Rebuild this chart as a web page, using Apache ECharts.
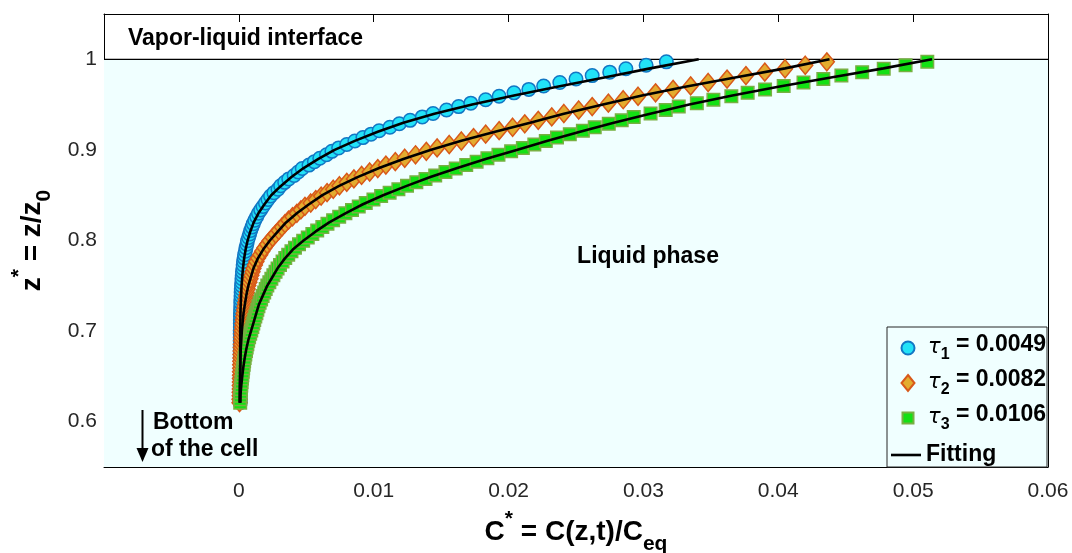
<!DOCTYPE html>
<html>
<head>
<meta charset="utf-8">
<script src="https://cdn.jsdelivr.net/npm/echarts@6/dist/echarts.min.js"></script>
<style>
html, body { margin: 0; padding: 0; background: #ffffff; }
#chart { width: 1072px; height: 553px; }
</style>
</head>
<body>
<div id="chart"></div>
<script>
// Dimensionless depth z* = z/z0 of the sampled points (shared by the three profiles)
const zGrid = [
  0.6210, 0.6248, 0.6286, 0.6324, 0.6362, 0.6400, 0.6438, 0.6476, 0.6514, 0.6552,
  0.6590, 0.6628, 0.6666, 0.6704, 0.6742, 0.6780, 0.6818, 0.6856, 0.6894, 0.6932,
  0.6970, 0.7008, 0.7046, 0.7084, 0.7122, 0.7160, 0.7198, 0.7236, 0.7274, 0.7312,
  0.7350, 0.7388, 0.7426, 0.7464, 0.7502, 0.7540, 0.7578, 0.7616, 0.7654, 0.7692,
  0.7730, 0.7768, 0.7806, 0.7844, 0.7882, 0.7920, 0.7958, 0.7996, 0.8034, 0.8072,
  0.8110, 0.8148, 0.8186, 0.8224, 0.8262, 0.8300, 0.8338, 0.8376, 0.8414, 0.8452,
  0.8490, 0.8528, 0.8566, 0.8604, 0.8642, 0.8680, 0.8718, 0.8756, 0.8794, 0.8832,
  0.8870, 0.8908, 0.8946, 0.8984, 0.9022, 0.9060, 0.9098, 0.9136, 0.9174, 0.9212,
  0.9250, 0.9288, 0.9326, 0.9364, 0.9402, 0.9440, 0.9478, 0.9516, 0.9554, 0.9592,
  0.9630, 0.9668, 0.9706, 0.9744, 0.9782, 0.9820, 0.9858, 0.9896, 0.9934, 0.9972
];

// Concentration C* = C(z,t)/Ceq at each depth, tau1 = 0.0049
const cTau1 = [
  0.0001, 0.0001, 0.0001, 0.0001, 0.0001, 0.0001, 0.0001, 0.0001, 0.0001, 0.0001,
  0.0001, 0.0001, 0.0001, 0.0001, 0.0001, 0.0001, 0.0001, 0.0001, 0.0001, 0.0001,
  0.0001, 0.0001, 0.00011, 0.00011, 0.00011, 0.00012, 0.00012, 0.00013, 0.00014, 0.00014,
  0.00015, 0.00016, 0.00017, 0.00018, 0.0002, 0.00022, 0.00023, 0.00025, 0.00027, 0.0003,
  0.00032, 0.00035, 0.00039, 0.00043, 0.00048, 0.00053, 0.00059, 0.00064, 0.00072, 0.0008,
  0.00088, 0.00097, 0.00107, 0.00118, 0.00132, 0.00145, 0.00162, 0.00179, 0.00197, 0.00216,
  0.00235, 0.0026, 0.0029, 0.0031, 0.0034, 0.0037, 0.0041, 0.0044, 0.0047, 0.0052,
  0.0056, 0.0060, 0.0065, 0.0069, 0.0074, 0.0080, 0.0086, 0.0092, 0.0098, 0.0104,
  0.0112, 0.0119, 0.0127, 0.0136, 0.0144, 0.0154, 0.0163, 0.0172, 0.0183, 0.0193,
  0.0204, 0.0215, 0.0226, 0.0238, 0.0250, 0.0262, 0.0275, 0.0287, 0.0302, 0.0317
];

// tau2 = 0.0082
const cTau2 = [
  0.00005, 0.00005, 0.00006, 0.00006, 0.00007, 0.00007, 0.00008, 0.00008, 0.00009, 0.00009,
  0.0001, 0.0001, 0.00011, 0.00012, 0.00013, 0.00014, 0.00015, 0.00016, 0.00018, 0.00019,
  0.00021, 0.00022, 0.00025, 0.00027, 0.0003, 0.00032, 0.00035, 0.00039, 0.00042, 0.00046,
  0.0005, 0.00054, 0.00059, 0.00065, 0.0007, 0.00078, 0.00086, 0.00093, 0.00101, 0.00108,
  0.00119, 0.0013, 0.00142, 0.00158, 0.00173, 0.0019, 0.00209, 0.00228, 0.0025, 0.00273,
  0.00296, 0.00319, 0.00342, 0.00368, 0.00398, 0.0043, 0.0046, 0.0049, 0.00533, 0.0057,
  0.0061, 0.00654, 0.0070, 0.00746, 0.0080, 0.00853, 0.0091, 0.0097, 0.0103, 0.0109,
  0.0116, 0.0123, 0.0131, 0.0139, 0.0147, 0.0156, 0.0165, 0.0174, 0.0183, 0.0193,
  0.0203, 0.0212, 0.0222, 0.0232, 0.0241, 0.0252, 0.0262, 0.0274, 0.0285, 0.0296,
  0.0309, 0.0322, 0.0335, 0.0348, 0.0362, 0.0376, 0.0390, 0.0405, 0.0420, 0.0436
];

// tau3 = 0.0106
const cTau3 = [
  0.0001, 0.0001, 0.00011, 0.00013, 0.00015, 0.00018, 0.0002, 0.00023, 0.00026, 0.00029,
  0.00032, 0.00036, 0.00039, 0.00043, 0.00048, 0.00053, 0.00058, 0.00063, 0.00069, 0.00076,
  0.00084, 0.00092, 0.001, 0.00107, 0.00114, 0.00122, 0.0013, 0.00137, 0.00145, 0.00154,
  0.00165, 0.00176, 0.00188, 0.00199, 0.00211, 0.00226, 0.00241, 0.00256, 0.00272, 0.00287,
  0.00305, 0.00324, 0.00344, 0.00366, 0.0039, 0.00416, 0.00446, 0.00477, 0.00511, 0.00545,
  0.00581, 0.00619, 0.00657, 0.00699, 0.00744, 0.0079, 0.00839, 0.00889, 0.00941, 0.00998,
  0.01055, 0.01118, 0.01183, 0.01247, 0.01316, 0.01384, 0.01456, 0.01532, 0.01608, 0.01686,
  0.01763, 0.01843, 0.01925, 0.02019, 0.02106, 0.02191, 0.02276, 0.02359, 0.02454, 0.02551,
  0.02639, 0.02743, 0.02839, 0.02928, 0.03053, 0.03165, 0.03262, 0.03396, 0.03519, 0.03652,
  0.03773, 0.03902, 0.0404, 0.04187, 0.04334, 0.04468, 0.04622, 0.04782, 0.04944, 0.05105
];

// Fitted profiles
const fitZ = [
  0.621, 0.63, 0.64, 0.65, 0.66, 0.67, 0.68, 0.69, 0.70,
  0.71, 0.72, 0.73, 0.74, 0.75, 0.76, 0.77, 0.78, 0.79,
  0.80, 0.81, 0.82, 0.83, 0.84, 0.85, 0.86, 0.87, 0.88, 0.89,
  0.90, 0.91, 0.92, 0.93, 0.94, 0.95, 0.96, 0.97, 0.98, 0.99,
  1.00
];
const fitTau1 = [
  0.0001, 0.0001, 0.0001, 0.0001, 0.0001, 0.0001, 0.0001, 0.0001, 0.0001,
  0.00011, 0.00012, 0.00014, 0.00017, 0.0002, 0.00025, 0.00031, 0.00039, 0.0005,
  0.00065, 0.00085, 0.0011, 0.00145, 0.0019, 0.0024, 0.0031, 0.0039, 0.0048, 0.0059,
  0.0071, 0.0086, 0.0103, 0.0122, 0.0145, 0.0173, 0.0204, 0.0237, 0.0271, 0.0305,
  0.0341
];
const fitTau2 = [
  0.00005, 0.00006, 0.00007, 0.00009, 0.0001, 0.00012, 0.00014, 0.00018, 0.00022,
  0.00028, 0.00035, 0.00045, 0.00056, 0.0007, 0.0009, 0.0011, 0.0014, 0.0018,
  0.0023, 0.0029, 0.0035, 0.0043, 0.0052, 0.0062, 0.0074, 0.0088, 0.0104, 0.0122,
  0.0142, 0.0165, 0.0190, 0.0216, 0.0241, 0.0270, 0.0299, 0.0332, 0.0368, 0.0405,
  0.0438
];
const fitTau3 = [
  0.0001, 0.00012, 0.00018, 0.00025, 0.00033, 0.00043, 0.00055, 0.0007, 0.0009,
  0.0011, 0.0013, 0.0015, 0.0018, 0.0021, 0.0025, 0.0029, 0.0034, 0.0040,
  0.0048, 0.0057, 0.0067, 0.0079, 0.0092, 0.0107, 0.0124, 0.0142, 0.0162, 0.0183,
  0.0206, 0.0229, 0.0253, 0.0278, 0.0305, 0.0334, 0.0366, 0.0401, 0.0439, 0.0478,
  0.0514
];

const xTicks = [0, 0.01, 0.02, 0.03, 0.04, 0.05, 0.06];
const yTicks = [0.6, 0.7, 0.8, 0.9, 1];
const tauIndex = ['1', '2', '3'];
const tauValues = ['0.0049', '0.0082', '0.0106'];
const seriesNames = ['tau1', 'tau2', 'tau3'];
const fitName = 'Fitting';

const FONT = '"Liberation Sans", Arial, Helvetica, sans-serif';
const AXIS_COLOR = '#000000';
const TICK_TEXT = '#262626';

const markerStyles = [
  { symbol: 'circle', size: 13.5, fill: '#22e2f7', stroke: '#1277c4' },
  { symbol: 'diamond', size: [15, 18], fill: '#e3ac2f', stroke: '#d8591a' },
  { symbol: 'rect', size: 12.5, fill: '#14e014', stroke: '#78b043' }
];

// Legend icons: a leading "M0,0 M17,17" fixes the icon box so each glyph keeps its own size
const legendIcons = [
  'path://M0,0M17,17M2,8.5A6.5,6.5,0,1,1,15,8.5A6.5,6.5,0,1,1,2,8.5Z',
  'path://M0,0M17,17M8.5,0.5L15,8.5L8.5,16.5L2,8.5Z',
  'path://M0,0M17,17M3,3L14,3L14,14L3,14Z',
  'path://M0,0M30,17M0,7.2L30,7.2L30,9.8L0,9.8Z'
];

const dataSets = [cTau1, cTau2, cTau3];
const fitSets = [fitTau1, fitTau2, fitTau3];

const chart = echarts.init(document.getElementById('chart'), null, { renderer: 'canvas' });

const baseAxis = {
  type: 'value',
  splitLine: { show: false },
  axisLine: { show: true, onZero: false, lineStyle: { color: AXIS_COLOR, width: 1 } }
};

const titleRich = {
  b: { fontSize: 28, fontWeight: 'bold', fontFamily: FONT, color: '#000', lineHeight: 46 },
  sup: { fontSize: 21, fontWeight: 'bold', fontFamily: FONT, color: '#000', verticalAlign: 'top' },
  sub: { fontSize: 21, fontWeight: 'bold', fontFamily: FONT, color: '#000', verticalAlign: 'bottom' }
};

const scatterSeries = dataSets.map((vals, k) => ({
  name: seriesNames[k],
  type: 'scatter',
  symbol: markerStyles[k].symbol,
  symbolSize: markerStyles[k].size,
  itemStyle: {
    color: markerStyles[k].fill,
    borderColor: markerStyles[k].stroke,
    borderWidth: 1.5,
    opacity: 1
  },
  emphasis: { disabled: true },
  z: 2,
  data: zGrid.map((z, i) => [vals[i], z])
}));

const fitSeries = fitSets.map((vals) => ({
  name: fitName,
  type: 'line',
  symbol: 'none',
  showSymbol: false,
  lineStyle: { color: '#000000', width: 2.6 },
  itemStyle: { color: '#000000', borderWidth: 0 },
  emphasis: { disabled: true },
  z: 3,
  data: fitZ.map((z, i) => [vals[i], z])
}));

const legendCommon = {
  show: true,
  orient: 'vertical',
  padding: 0,
  itemGap: 5,
  itemWidth: 30,
  itemHeight: 17,
  symbolKeepAspect: true,
  selectedMode: false,
  z: 6
};

const option = {
  animation: false,
  backgroundColor: '#ffffff',
  grid: { left: 104, right: 24, top: 14, bottom: 86, containLabel: false, outerBoundsMode: 'none' },
  xAxis: [
    Object.assign({}, baseAxis, {
      position: 'bottom',
      min: -0.01, max: 0.06, interval: 0.01,
      axisTick: { show: true, inside: true, length: 8, customValues: xTicks, lineStyle: { color: AXIS_COLOR } },
      axisLabel: {
        customValues: xTicks, fontSize: 21, color: TICK_TEXT, fontFamily: FONT, margin: 14,
        formatter: (v) => (v === 0 ? '0' : String(+v.toFixed(2)))
      },
      name: '{b|C}{sup|*}{b| = C(z,t)/C}{sub|eq}',
      nameLocation: 'middle',
      nameGap: 42,
      nameTextStyle: { rich: titleRich }
    }),
    Object.assign({}, baseAxis, {
      position: 'top',
      min: -0.01, max: 0.06, interval: 0.01,
      axisTick: { show: true, inside: true, length: 8, customValues: xTicks, lineStyle: { color: AXIS_COLOR } },
      axisLabel: { show: false }
    })
  ],
  yAxis: [
    Object.assign({}, baseAxis, {
      position: 'left',
      min: 0.55, max: 1.05,
      axisTick: { show: true, inside: true, length: 8, customValues: yTicks, lineStyle: { color: AXIS_COLOR } },
      axisLabel: {
        customValues: yTicks, fontSize: 21, color: TICK_TEXT, fontFamily: FONT, margin: 7,
        formatter: (v) => String(+v.toFixed(2))
      },
      name: '{b|z}{sup|*}{b| = z/z}{sub|0}',
      nameLocation: 'middle',
      nameGap: 49,
      nameTextStyle: { rich: titleRich }
    }),
    Object.assign({}, baseAxis, {
      position: 'right',
      min: 0.55, max: 1.05,
      axisTick: { show: true, inside: true, length: 8, customValues: yTicks, lineStyle: { color: AXIS_COLOR } },
      axisLabel: { show: false }
    })
  ],
  legend: [
    Object.assign({}, legendCommon, {
      left: 898.5,
      top: 333,
      data: seriesNames.map((n, k) => ({ name: n, icon: legendIcons[k] })),
      formatter: (name) => {
        const k = seriesNames.indexOf(name);
        return '{t|\u03c4}{s|' + tauIndex[k] + '}{v| = ' + tauValues[k] + '}';
      },
      textStyle: {
        color: '#000',
        rich: {
          t: { fontSize: 21, fontStyle: 'italic', fontFamily: '"DejaVu Sans", sans-serif', color: '#000', lineHeight: 30, verticalAlign: 'middle' },
          s: { fontSize: 16, fontWeight: 'bold', fontFamily: FONT, color: '#000', verticalAlign: 'bottom' },
          v: { fontSize: 23, fontWeight: 'bold', fontFamily: FONT, color: '#000', verticalAlign: 'top' }
        }
      }
    }),
    Object.assign({}, legendCommon, {
      left: 891,
      top: 443.5,
      data: [{ name: fitName, icon: legendIcons[3], itemStyle: { color: '#000', borderWidth: 0 } }],
      textStyle: { color: '#000', fontSize: 23, fontWeight: 'bold', fontFamily: FONT }
    })
  ],
  graphic: [
    {
      type: 'rect', z: 5, silent: true,
      shape: { x: 887, y: 327, width: 160, height: 140 },
      style: { fill: '#f0ffff', stroke: '#262626', lineWidth: 1 }
    },
    {
      type: 'text', z: 5, silent: true,
      style: { text: 'Vapor-liquid interface', x: 128, y: 39, font: 'bold 23px ' + FONT, fill: '#000', verticalAlign: 'middle' }
    },
    {
      type: 'text', z: 5, silent: true,
      style: { text: 'Liquid phase', x: 648, y: 257, font: 'bold 23px ' + FONT, fill: '#000', align: 'center', verticalAlign: 'middle' }
    },
    {
      type: 'text', z: 5, silent: true,
      style: { text: 'Bottom', x: 153, y: 423, font: 'bold 23px ' + FONT, fill: '#000', verticalAlign: 'middle' }
    },
    {
      type: 'text', z: 5, silent: true,
      style: { text: 'of the cell', x: 151, y: 450, font: 'bold 23px ' + FONT, fill: '#000', verticalAlign: 'middle' }
    },
    {
      type: 'line', z: 5, silent: true,
      shape: { x1: 142.5, y1: 410, x2: 142.5, y2: 452 },
      style: { stroke: '#000', lineWidth: 2 }
    },
    {
      type: 'polygon', z: 5, silent: true,
      shape: { points: [[136.5, 448], [148.5, 448], [142.5, 462]] },
      style: { fill: '#000' }
    }
  ],
  series: [
    {
      // liquid region shading below the interface
      name: 'liquidRegion',
      type: 'line',
      data: [],
      z: 0,
      silent: true,
      markArea: {
        silent: true,
        itemStyle: { color: '#f0ffff' },
        data: [[{ coord: [-0.01, 0.55] }, { coord: [0.06, 1] }]]
      }
    },
    {
      // vapor-liquid interface at z* = 1
      name: 'interface',
      type: 'line',
      symbol: 'none',
      silent: true,
      z: 1,
      lineStyle: { color: '#000', width: 1.3 },
      data: [[-0.01, 1], [0.06, 1]]
    }
  ].concat(scatterSeries, fitSeries)
};

chart.setOption(option);
</script>
</body>
</html>
